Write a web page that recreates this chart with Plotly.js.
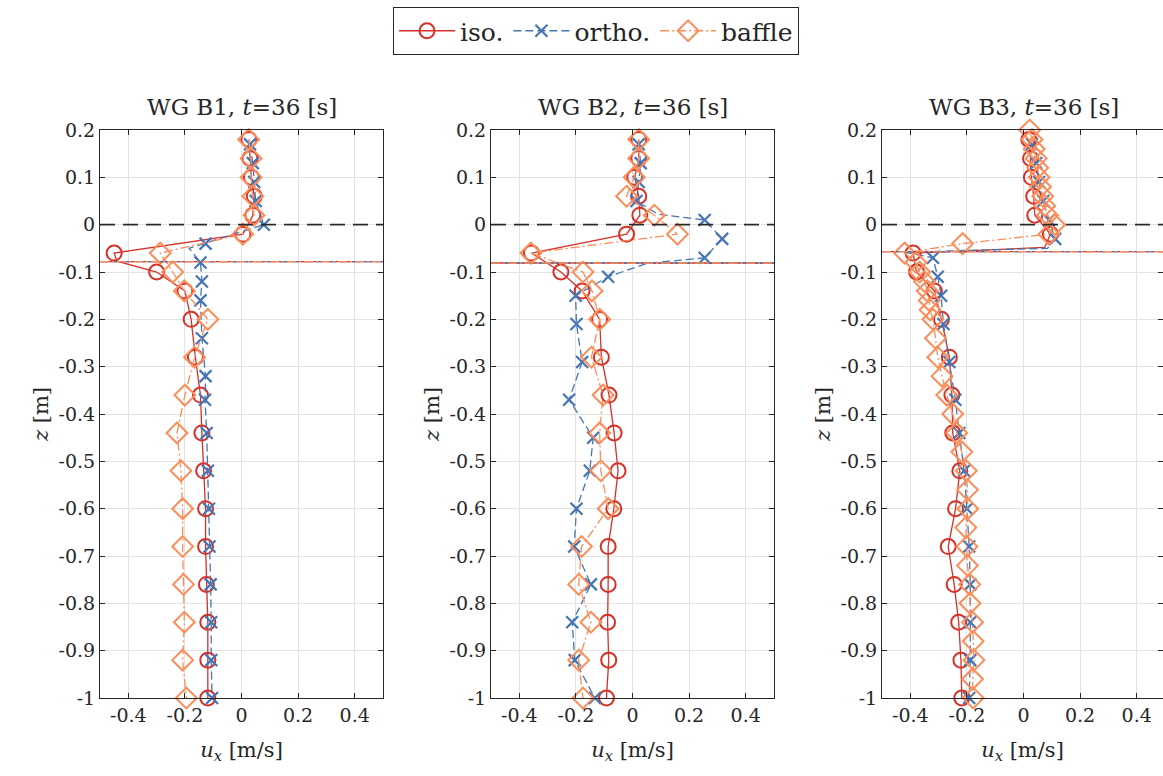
<!DOCTYPE html>
<html><head><meta charset="utf-8">
<script src="https://cdn.plot.ly/plotly-3.0.1.min.js"></script>
<style>html,body{margin:0;padding:0;background:#fff}#chart{width:1163px;height:776px}</style>
</head><body><div id="chart"></div>
<script>
// ---------- data ----------
const gauges = ['WG B1', 'WG B2', 'WG B3'];
const timeStamp = 36;
const seriesNames = ['iso.', 'ortho.', 'baffle'];
const zTickVals = [0.2, 0.1, 0, -0.1, -0.2, -0.3, -0.4, -0.5, -0.6, -0.7, -0.8, -0.9, -1];
const zTickText = ['0.2', '0.1', '0', '-0.1', '-0.2', '-0.3', '-0.4', '-0.5', '-0.6', '-0.7', '-0.8', '-0.9', '-1'];
const uTickVals = [-0.4, -0.2, 0, 0.2, 0.4];
const uTickText = ['-0.4', '-0.2', '0', '0.2', '0.4'];
const zStillWater = 0;
const zInterface = [-0.078, -0.081, -0.057];

// common marker depth levels
const zLevels = [0.18, 0.14, 0.10, 0.06, 0.02, -0.02, -0.06, -0.10, -0.14, -0.20, -0.28, -0.36, -0.44, -0.52, -0.60, -0.68, -0.76, -0.84, -0.92, -1.0];

// WG B1
const u_iso_B1 = [0.026, 0.03, 0.035, 0.045, 0.04, 0.005, -0.45, -0.30, -0.20, -0.178, -0.163, -0.145, -0.14, -0.134, -0.127, -0.127, -0.124, -0.119, -0.119, -0.119];
const z_ortho_B1 = [0.17, 0.13, 0.09, 0.05, 0.0, -0.04, -0.08, -0.12, -0.16, -0.24, -0.32, -0.37, -0.44, -0.52, -0.60, -0.68, -0.76, -0.84, -0.92, -1.0];
const u_ortho_B1 = [0.03, 0.04, 0.045, 0.05, 0.079, -0.127, -0.145, -0.14, -0.145, -0.14, -0.127, -0.129, -0.123, -0.119, -0.115, -0.113, -0.109, -0.107, -0.107, -0.104];
const u_baffle_B1 = [0.025, 0.034, 0.034, 0.04, 0.044, 0.005, -0.287, -0.243, -0.202, -0.119, -0.166, -0.20, -0.228, -0.214, -0.208, -0.208, -0.205, -0.202, -0.208, -0.195];
const uBend_iso_B1 = [-0.44], zBend_iso_B1 = [-0.077];
const uBend_ortho_B1 = [-0.185], zBend_ortho_B1 = [-0.05];

// WG B2
const u_iso_B2 = [0.022, 0.022, 0.008, 0.022, 0.026, -0.021, -0.357, -0.253, -0.178, -0.116, -0.11, -0.083, -0.065, -0.051, -0.066, -0.086, -0.086, -0.088, -0.084, -0.092];
const z_ortho_B2 = [0.17, 0.13, 0.09, 0.05, 0.01, -0.03, -0.07, -0.11, -0.15, -0.21, -0.29, -0.37, -0.45, -0.52, -0.60, -0.68, -0.76, -0.84, -0.92, -1.0];
const u_ortho_B2 = [0.022, 0.029, 0.022, 0.014, 0.255, 0.317, 0.255, -0.086, -0.201, -0.198, -0.178, -0.224, -0.139, -0.151, -0.198, -0.206, -0.147, -0.213, -0.204, -0.133];
const u_baffle_B2 = [0.022, 0.022, 0.006, -0.021, 0.077, 0.159, -0.359, -0.175, -0.143, -0.116, -0.145, -0.104, -0.116, -0.112, -0.086, -0.18, -0.19, -0.147, -0.19, -0.175];
const uBend_ortho_B2 = [0.09, 0.17, 0.05], zBend_ortho_B2 = [0.022, -0.075, -0.082];

// WG B3
const u_iso_B3 = [0.019, 0.025, 0.028, 0.036, 0.04, 0.095, -0.39, -0.378, -0.315, -0.29, -0.262, -0.253, -0.25, -0.225, -0.24, -0.266, -0.245, -0.229, -0.221, -0.218];
const z_ortho_B3 = [0.17, 0.13, 0.09, 0.05, 0.01, -0.03, -0.07, -0.11, -0.15, -0.21, -0.29, -0.37, -0.44, -0.52, -0.60, -0.68, -0.76, -0.84, -0.92, -1.0];
const u_ortho_B3 = [0.03, 0.045, 0.055, 0.07, 0.09, 0.112, -0.32, -0.303, -0.291, -0.283, -0.262, -0.241, -0.227, -0.21, -0.20, -0.192, -0.188, -0.188, -0.188, -0.192];
const z_baffle_B3 = [0.20, 0.18, 0.16, 0.14, 0.12, 0.10, 0.08, 0.06, 0.04, 0.02, 0.0, -0.02, -0.04, -0.06, -0.08, -0.10, -0.12, -0.14, -0.16, -0.18, -0.20, -0.24, -0.28, -0.32, -0.36, -0.40, -0.44, -0.48, -0.52, -0.56, -0.60, -0.64, -0.68, -0.72, -0.76, -0.80, -0.84, -0.88, -0.92, -0.96, -1.0];
const u_baffle_B3 = [0.022, 0.03, 0.038, 0.045, 0.05, 0.055, 0.06, 0.068, 0.075, 0.085, 0.11, 0.09, -0.215, -0.42, -0.38, -0.367, -0.35, -0.34, -0.333, -0.33, -0.32, -0.311, -0.303, -0.288, -0.271, -0.25, -0.236, -0.218, -0.202, -0.198, -0.197, -0.204, -0.20, -0.198, -0.19, -0.189, -0.18, -0.178, -0.175, -0.18, -0.178];
const uBend_iso_B3 = [0.075], zBend_iso_B3 = [-0.048];
const uBend_ortho_B3 = [0.085, -0.42], zBend_ortho_B3 = [-0.05, -0.058];

// ---------- styling ----------
const colors = ['#d73027', '#4575b4', '#fc8d59'];
const dashes = ['solid', '8px,4px', '9px,3px,2px,3px'];
const symbols = ['circle-open', 'x-thin-open', 'diamond-open'];
const msizes = [15, 12, 16];
const mlw = [2, 2.2, 2];
const FONT = 'DejaVu Serif';
const ink = '#262626';

const data = {
  B1: [
    {u: u_iso_B1, z: zLevels, bu: uBend_iso_B1, bz: zBend_iso_B1},
    {u: u_ortho_B1, z: z_ortho_B1, bu: uBend_ortho_B1, bz: zBend_ortho_B1},
    {u: u_baffle_B1, z: zLevels, bu: [], bz: []}
  ],
  B2: [
    {u: u_iso_B2, z: zLevels, bu: [], bz: []},
    {u: u_ortho_B2, z: z_ortho_B2, bu: uBend_ortho_B2, bz: zBend_ortho_B2},
    {u: u_baffle_B2, z: zLevels, bu: [], bz: []}
  ],
  B3: [
    {u: u_iso_B3, z: zLevels, bu: uBend_iso_B3, bz: zBend_iso_B3},
    {u: u_ortho_B3, z: z_ortho_B3, bu: uBend_ortho_B3, bz: zBend_ortho_B3},
    {u: u_baffle_B3, z: z_baffle_B3, bu: [], bz: []}
  ]
};

function profileLine(d) {
  const pts = d.u.map((u, i) => [u, d.z[i]]).concat(d.bu.map((u, i) => [u, d.bz[i]]));
  pts.sort((a, b) => b[1] - a[1]);
  return {x: pts.map(p => p[0]), y: pts.map(p => p[1])};
}

const W = 1163, H = 776;
const xDomains = [[100 / W, 383 / W], [491 / W, 774 / W], [882 / W, 1]];
const xRanges = [[-0.5, 0.5], [-0.5, 0.5], [-0.5, 0.493]];
const yDomain = [(H - 698) / H, (H - 130) / H];

const traces = [];
const layout = {
  width: W, height: H,
  margin: {l: 0, r: 0, t: 0, b: 0},
  paper_bgcolor: '#fff', plot_bgcolor: '#fff',
  font: {family: FONT, size: 20, color: ink},
  showlegend: true,
  legend: {
    orientation: 'h', x: 393 / W, y: 1 - 7 / H, xanchor: 'left', yanchor: 'top',
    bordercolor: ink, borderwidth: 1, bgcolor: '#fff',
    font: {family: FONT, size: 25, color: ink},
    itemwidth: 56, tracegroupgap: 0
  },
  shapes: [], annotations: []
};

gauges.forEach((g, p) => {
  const key = 'B' + (p + 1);
  const xa = p === 0 ? 'x' : 'x' + (p + 1);
  const ya = p === 0 ? 'y' : 'y' + (p + 1);
  const xName = p === 0 ? 'xaxis' : 'xaxis' + (p + 1);
  const yName = p === 0 ? 'yaxis' : 'yaxis' + (p + 1);

  layout[xName] = {
    domain: xDomains[p], range: xRanges[p], anchor: ya,
    tickvals: uTickVals, ticktext: uTickText,
    ticks: 'inside', ticklen: 5, tickwidth: 1, tickcolor: ink,
    showline: true, linecolor: ink, linewidth: 1, mirror: 'ticks',
    showgrid: true, gridcolor: '#e2e2e2', gridwidth: 1, zeroline: false,
    tickfont: {family: FONT, size: 19, color: ink},
    title: {text: '<i>u<sub>x</sub></i> [m/s]', font: {family: FONT, size: 21, color: ink}, standoff: 17}
  };
  layout[yName] = {
    domain: yDomain, range: [-1, 0.2], anchor: xa,
    tickvals: zTickVals, ticktext: zTickText,
    ticks: 'inside', ticklen: 5, tickwidth: 1, tickcolor: ink,
    showline: true, linecolor: ink, linewidth: 1, mirror: 'ticks',
    showgrid: true, gridcolor: '#e2e2e2', gridwidth: 1, zeroline: false,
    tickfont: {family: FONT, size: 19, color: ink},
    title: {text: '<i>z</i> [m]', font: {family: FONT, size: 21, color: ink}, standoff: 4}
  };

  layout.annotations.push({
    xref: 'paper', yref: 'paper',
    x: (xDomains[p][0] + xDomains[p][0] + 283 / W) / 2, y: (H - 107) / H,
    xanchor: 'center', yanchor: 'middle', showarrow: false,
    text: g + ', <i>t</i>=' + timeStamp + ' [s]',
    font: {family: FONT, size: 23, color: ink}
  });

  // still water level
  layout.shapes.push({
    type: 'line', xref: xa, x0: xRanges[p][0], x1: xRanges[p][1], yref: ya, y0: zStillWater, y1: zStillWater,
    line: {color: '#2a2a2a', width: 1.6, dash: '15px,8px'}, layer: 'above'
  });
  // interface lines per series
  [0, 1, 2].forEach(s => {
    layout.shapes.push({
      type: 'line', xref: xa, x0: xRanges[p][0], x1: xRanges[p][1], yref: ya, y0: zInterface[p], y1: zInterface[p],
      line: {color: colors[s], width: 1.3, dash: dashes[s]}, layer: 'above'
    });
  });

  data[key].forEach((d, s) => {
    const ln = profileLine(d);
    traces.push({
      type: 'scatter', mode: 'lines', x: ln.x, y: ln.y, xaxis: xa, yaxis: ya,
      line: {color: colors[s], width: 1.3, dash: dashes[s]}, showlegend: false, hoverinfo: 'skip'
    });
    traces.push({
      type: 'scatter', mode: 'markers', x: d.u, y: d.z, xaxis: xa, yaxis: ya,
      marker: {symbol: symbols[s], size: msizes[s], color: colors[s], line: {color: colors[s], width: mlw[s]}},
      showlegend: false, cliponaxis: false, hoverinfo: 'skip'
    });
  });
});

// legend entries
seriesNames.forEach((n, s) => {
  traces.push({
    type: 'scatter', mode: 'lines+markers', name: n, x: [null], y: [null], xaxis: 'x', yaxis: 'y',
    line: {color: colors[s], width: 1.3, dash: dashes[s]},
    marker: {symbol: symbols[s], size: msizes[s], color: colors[s], line: {color: colors[s], width: mlw[s]}}
  });
});

Plotly.newPlot('chart', traces, layout, {displayModeBar: false});
</script>
</body></html>
